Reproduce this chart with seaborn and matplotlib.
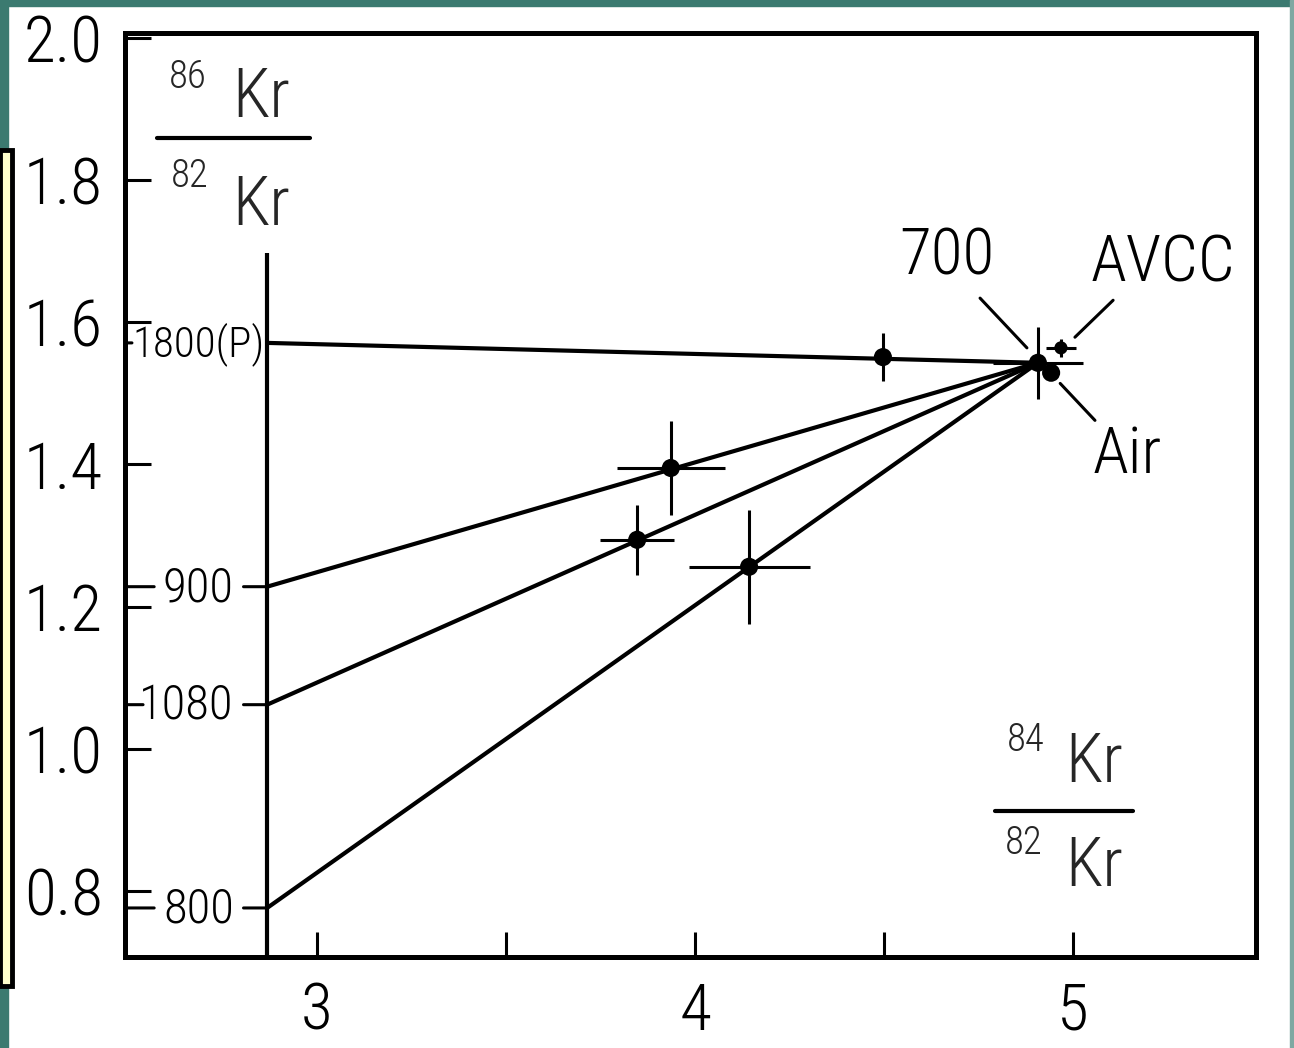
import numpy as np
import pandas as pd
import seaborn as sns
import matplotlib
matplotlib.use("Agg")
import matplotlib.pyplot as plt
from matplotlib import font_manager
from matplotlib.patches import Rectangle
from matplotlib.lines import Line2D

# ---- data: krypton isotope ratios ----------------------------------------
# temperature steps: 84Kr/82Kr (x) vs 86Kr/82Kr (y)
step_names = ["1800(P)", "900", "1080", "800"]
step_x = [4.497, 3.936, 3.847, 4.143]
step_y = [1.551, 1.395, 1.294, 1.256]
step_xerr = [0.0, 0.143, 0.098, 0.160]
step_yerr = [0.034, 0.066, 0.049, 0.080]

# 86Kr/82Kr where each correlation line meets the reference axis
line_intercepts = [1.571, 1.228, 1.062, 0.776]
ref_axis_x = 2.868
ref_axis_top = 1.697

# common end member (700 step) and reference compositions
end_name = "700"
end_x, end_y = 4.907, 1.543
end_xerr, end_yerr = 0.119, 0.051
avcc_x, avcc_y = 4.968, 1.564
avcc_xerr, avcc_yerr = 0.040, 0.013
air_x, air_y = 4.942, 1.529

y_ticks = [0.8, 1.0, 1.2, 1.4, 1.6, 1.8, 2.0]
y_ticklabels = ["0.8", "1.0", "1.2", "1.4", "1.6", "1.8", "2.0"]
x_ticks = [3.0, 3.5, 4.0, 4.5, 5.0]
x_ticklabels = ["3", "", "4", "", "5"]

# ---- style ----------------------------------------------------------------
sns.set_theme(style="white")
names = {f.name for f in font_manager.fontManager.ttflist}
narrow = None
for cand in ["Liberation Sans Narrow", "Roboto Condensed", "Open Sans Condensed"]:
    if cand in names:
        narrow = cand
        break
if narrow is None:
    fam = ["DejaVu Sans"]
    stretch = "condensed"
else:
    fam = [narrow, "DejaVu Sans"]
    stretch = "normal"
plt.rcParams["font.family"] = fam
plt.rcParams["font.stretch"] = stretch
plt.rcParams["font.weight"] = "light"

BIG = 47      # tick numbers and point labels
MID = 35      # intercept labels
SUP = 28      # mass numbers

W, H = 1294, 1048
fig = plt.figure(figsize=(W / 100, H / 100), dpi=100)
fig.patch.set_facecolor("white")


def px(x, y):
    return (x / W, 1 - y / H)


left, right, top, bottom = 125, 1256, 33, 957
ax = fig.add_axes([left / W, 1 - bottom / H, (right - left) / W, (bottom - top) / H])
ax.set_facecolor("white")

x0, x1 = 2.492, 5.484
y0, y1 = 0.707, 2.007
ax.set_xlim(x0, x1)
ax.set_ylim(y0, y1)

for s in ax.spines.values():
    s.set_visible(True)
    s.set_color("black")
    s.set_linewidth(3.6)

ax.set_yticks(y_ticks)
ax.set_yticklabels(y_ticklabels)
ax.set_xticks(x_ticks)
ax.set_xticklabels(x_ticklabels)
ax.tick_params(axis="y", direction="in", length=19, width=2.2, color="black",
               pad=16, labelsize=BIG, labelcolor="black", left=True)
ax.tick_params(axis="x", direction="in", length=18, width=2.2, color="black",
               pad=17, labelsize=BIG, labelcolor="black", bottom=True)
ax.grid(False)

# reference axis
ax.plot([ref_axis_x, ref_axis_x], [y0, ref_axis_top], color="black", lw=3.0,
        solid_capstyle="butt", zorder=3)

# correlation lines from each intercept to the common end member
rows = []
for name, b in zip(step_names, line_intercepts):
    rows.append({"line": name, "x": ref_axis_x, "y": b})
    rows.append({"line": name, "x": end_x, "y": end_y})
lines_df = pd.DataFrame(rows)
sns.lineplot(data=lines_df, x="x", y="y", units="line", estimator=None,
             sort=False, color="black", lw=3.0, ax=ax, legend=False, zorder=3)

# intercept labels with short ticks on both axes
for name, b in zip(step_names, line_intercepts):
    if name.startswith("1800"):
        ax.annotate(name, xy=(ref_axis_x, b), xytext=(-2, -1), textcoords="offset points",
                    ha="right", va="center", fontsize=MID - 4, color="black",
                    fontstretch=stretch, zorder=4)
        outer_len = 5
    else:
        ax.annotate(name, xy=(ref_axis_x, b), xytext=(-24, -1), textcoords="offset points",
                    ha="right", va="center", fontsize=MID, color="black",
                    fontstretch=stretch, zorder=4)
        ax.annotate("", xy=(ref_axis_x, b), xytext=(-17, 0), textcoords="offset points",
                    arrowprops=dict(arrowstyle="-", lw=2.2, color="black",
                                    shrinkA=0, shrinkB=0))
        outer_len = 13 if name == "1080" else 21
    ax.annotate("", xy=(x0, b), xytext=(outer_len, 0), textcoords="offset points",
                arrowprops=dict(arrowstyle="-", lw=2.2, color="black",
                                shrinkA=0, shrinkB=0))

# temperature-step points with error bars
pts = pd.DataFrame({"x": step_x, "y": step_y, "step": step_names})
ax.errorbar(step_x, step_y, xerr=step_xerr, yerr=step_yerr, fmt="none",
            ecolor="black", elinewidth=2.2, capsize=0, zorder=4)
ax.errorbar([end_x], [end_y], xerr=[end_xerr], yerr=[end_yerr], fmt="none",
            ecolor="black", elinewidth=2.2, capsize=0, zorder=4)
ax.errorbar([avcc_x], [avcc_y], xerr=[avcc_xerr], yerr=[avcc_yerr], fmt="none",
            ecolor="black", elinewidth=2.2, capsize=0, zorder=4)
sns.scatterplot(data=pts, x="x", y="y", color="black", s=170, edgecolor="none",
                ax=ax, legend=False, zorder=5)
sns.scatterplot(x=[end_x, air_x], y=[end_y, air_y], color="black", s=170,
                edgecolor="none", ax=ax, legend=False, zorder=5)
sns.scatterplot(x=[avcc_x], y=[avcc_y], color="black", s=90, edgecolor="none",
                ax=ax, legend=False, zorder=5)
ax.set_xlabel("")
ax.set_ylabel("")

# labels with leader lines
lead = dict(arrowstyle="-", lw=2.2, color="black", shrinkA=0, shrinkB=0)
ax.annotate("", xy=(4.878, 1.564), xytext=(4.754, 1.634), arrowprops=lead)
ax.text(4.667, 1.692, end_name, ha="center", va="center", fontsize=BIG,
        fontstretch=stretch, color="black")
ax.annotate("", xy=(5.005, 1.579), xytext=(5.106, 1.631), arrowprops=lead)
ax.text(5.238, 1.683, "AVCC", ha="center", va="center", fontsize=BIG,
        fontstretch=stretch, color="black")
ax.annotate("", xy=(4.966, 1.514), xytext=(5.058, 1.462), arrowprops=lead)
ax.text(5.143, 1.413, "Air", ha="center", va="center", fontsize=BIG,
        fontstretch=stretch, color="black")


# axis quantities written as isotope fractions (pixel positions on the page)
def ratio_label(num, num_xy, kr1_xy, bar_x, bar_y, den, den_xy, kr2_xy):
    fig.text(*px(*num_xy), num, ha="center", va="center", fontsize=SUP,
             fontstretch=stretch)
    fig.text(*px(*kr1_xy), "Kr", ha="center", va="center", fontsize=BIG + 2,
             fontstretch=stretch)
    fig.add_artist(Line2D([px(bar_x[0], 0)[0], px(bar_x[1], 0)[0]],
                          [px(0, bar_y)[1]] * 2, color="black", lw=3.0))
    fig.text(*px(*den_xy), den, ha="center", va="center", fontsize=SUP,
             fontstretch=stretch)
    fig.text(*px(*kr2_xy), "Kr", ha="center", va="center", fontsize=BIG + 2,
             fontstretch=stretch)


ratio_label("86", (188, 77), (261, 98), (157, 310), 138, "82", (190, 176), (261, 206))
ratio_label("84", (1026, 740), (1094, 763), (995, 1133), 811, "82", (1024, 843), (1094, 867))

# slide frame: teal border and yellow side panel
teal = "#3b7a70"
fig.add_artist(Rectangle(px(0, 6), 1, 6 / H, color=teal, transform=fig.transFigure, zorder=0))
fig.add_artist(Rectangle(px(0, 148), 8 / W, 148 / H, color=teal, transform=fig.transFigure, zorder=0))
fig.add_artist(Rectangle(px(0, H), 8 / W, (H - 988) / H, color=teal, transform=fig.transFigure, zorder=0))
fig.add_artist(Rectangle(px(1290, H), 4 / W, 1, color="#7fa8a2", transform=fig.transFigure, zorder=0))
fig.add_artist(Rectangle(px(0, 986), 12 / W, (986 - 150) / H, facecolor="#ffffcc",
                         edgecolor="black", lw=3.5, transform=fig.transFigure, zorder=0))

fig.savefig("out.png", dpi=100, facecolor="white")
